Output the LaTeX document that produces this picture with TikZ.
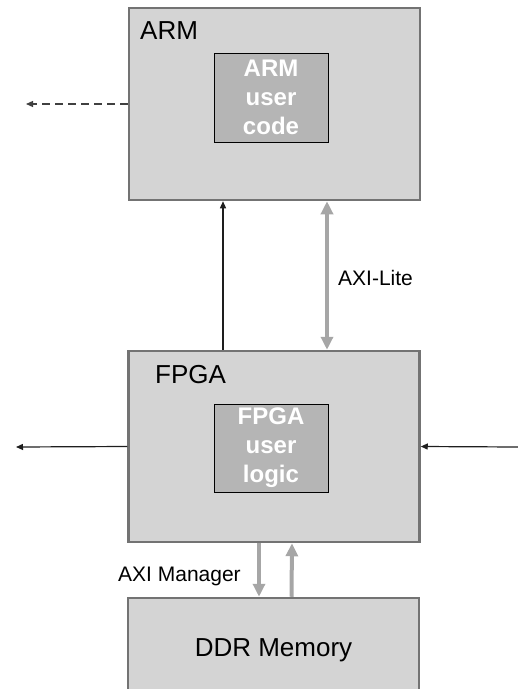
\documentclass[tikz,border=0pt]{standalone}
\usepackage{fontspec}
\setmainfont{Liberation Sans}
\usetikzlibrary{arrows.meta}
\definecolor{boxfill}{RGB}{212, 212, 212}
\definecolor{boxline}{RGB}{115, 115, 115}
\definecolor{userfill}{RGB}{181, 181, 181}
\definecolor{axigray}{RGB}{166, 166, 166}
\definecolor{sigline}{RGB}{30, 30, 30}
\tikzset{
	unitbox/.style={draw=boxline, fill=boxfill, line width=2.5pt, inner sep=0pt, minimum width=291pt},
	userbox/.style={draw=black, fill=userfill, line width=1pt, inner sep=0pt, minimum width=114pt, minimum height=89pt,
		text=white, align=center, font=\bfseries\fontsize{24}{29}\selectfont},
	unittitle/.style={anchor=base west, inner sep=0pt, font=\fontsize{26}{31}\selectfont},
	buslabel/.style={inner sep=0pt, font=\fontsize{21}{25}\selectfont},
	sig/.style={draw=sigline, line width=1.2pt, -{Triangle[length=7pt,width=6pt]}},
	axi/.style={draw=axigray, line width=4pt, -{Triangle[length=13pt,width=12pt]}},
}
\begin{document}
\begin{tikzpicture}[x=1pt, y=-1pt]
			\useasboundingbox (0, 0) rectangle (518, 689);
			\node[unitbox, minimum height=192pt] (arm) at (274.5, 104) {};
			\node[unitbox, minimum height=191pt] (fpga) at (274, 446.5) {};
			\node[unitbox, minimum height=97pt, text height=19pt, text depth=0pt, font=\fontsize{26}{31}\selectfont] (ddr) at (273.5, 646.5) {DDR Memory};
			\node[unittitle] (armtitle) at (140, 39) {ARM};
			\node[unittitle] (fpgatitle) at (155, 383) {FPGA};
			\node[userbox] (armcode) at (271, 97.5) {ARM\\user\\code};
			\node[userbox, minimum height=88pt] (fpgalogic) at (271, 448) {FPGA\\user\\logic};
			\coordinate (armout) at (26, 104);
			\coordinate (fpgaout) at (16, 447);
			\coordinate (fpgain) at (518, 447);
			\draw[sig, dashed, dash pattern=on 8pt off 5pt, draw=sigline!85] (arm.west) -- (armout);
			\draw[sig] (fpga.west) -- (fpgaout);
			\draw[sig] (fpgain) -- (fpga.east);
			\draw[sig] ([xshift=-51pt]fpga.north) -- ([xshift=-51.5pt]arm.south);
			\draw[axi, {Triangle[length=13pt,width=12pt]}-{Triangle[length=13pt,width=12pt]}] ([xshift=53pt]fpga.north) -- ([xshift=52.5pt]arm.south);
			\draw[axi] ([xshift=-15pt]fpga.south) -- ([xshift=-14.5pt]ddr.north);
			\draw[axi] ([xshift=18pt]ddr.north) -- ([xshift=18pt]fpga.south);
			\node[buslabel, anchor=base west] (axilite) at (338, 285) {AXI-Lite};
			\node[buslabel, anchor=base west] (aximanager) at (118, 581) {AXI Manager};
		\end{tikzpicture}
\end{document}
